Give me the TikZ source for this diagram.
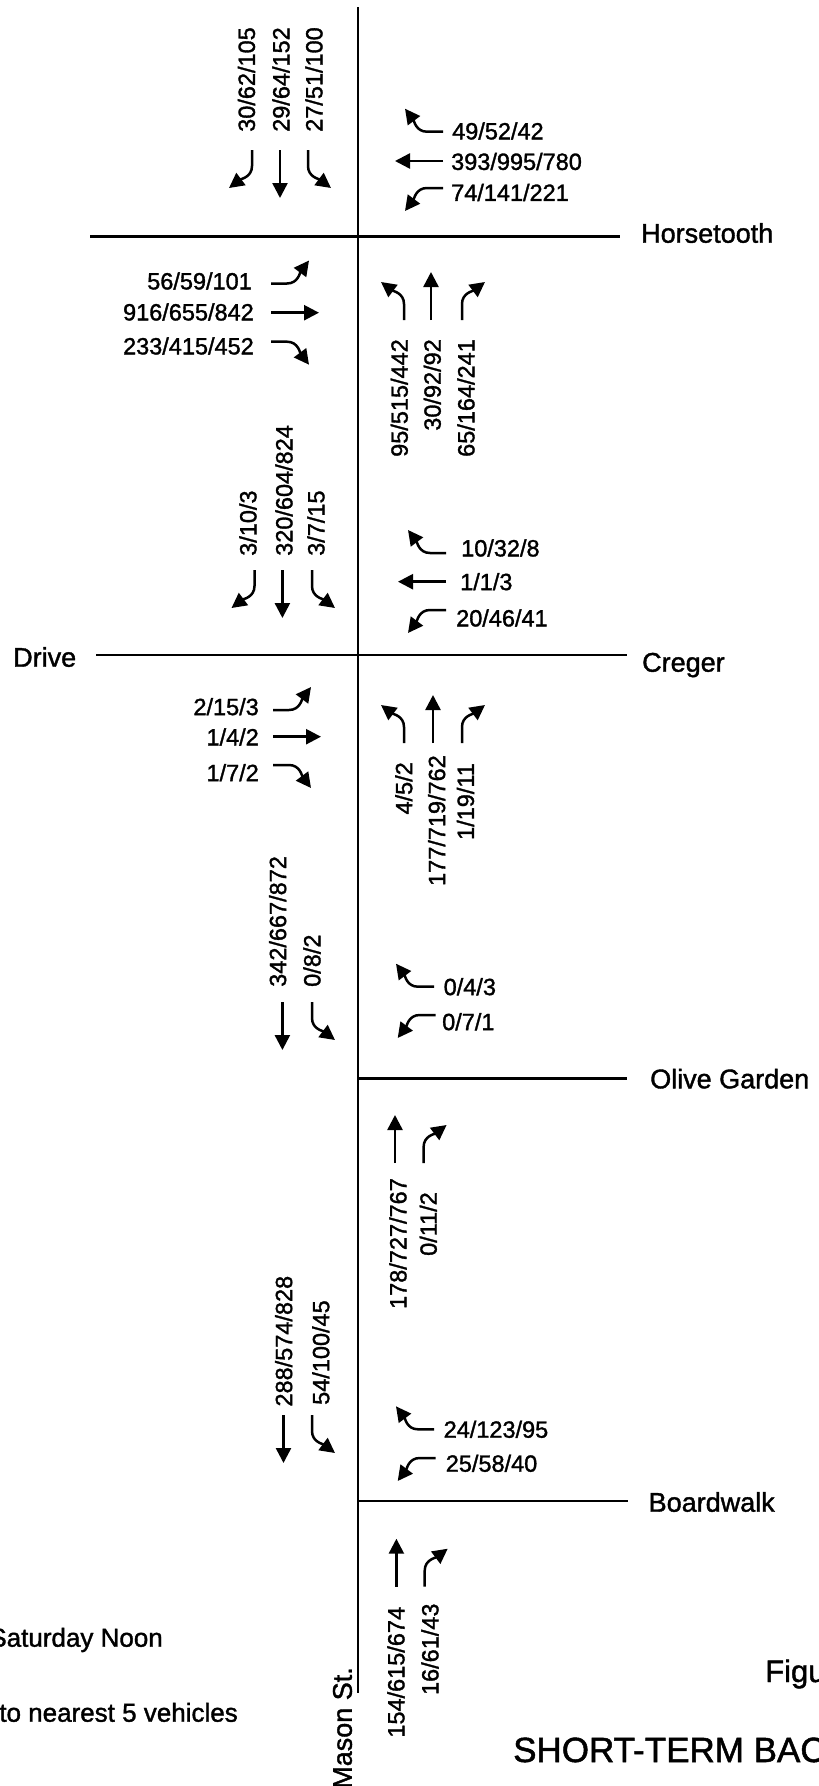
\documentclass[tikz,border=0pt]{standalone}
\usepackage{fontspec}
\setmainfont{Liberation Sans}[FakeBold=1.4]
\usetikzlibrary{arrows.meta}
\tikzset{
  % lane arrows, drawn heading north and turned with rotate=
  mv/.style={line width=2.5pt, -{Triangle[length=15pt,width=15pt]}},
  pics/thru/.style={code={\draw[mv] (0,0) -- (0,-48);}},
  pics/lturn/.style={code={\draw[mv] (0,0) -- (0,-16) .. controls (0,-27) and (-11,-29) .. (-23,-38);}},
  pics/rturn/.style={code={\draw[mv] (0,0) -- (0,-16) .. controls (0,-27) and (11,-29) .. (23,-38);}},
  road/.style={line width=2.8pt},
  vol/.style={font=\fontsize{23.5}{28}\selectfont, inner sep=0pt},
  volup/.style={vol, rotate=90},
  street/.style={font=\fontsize{27}{32}\selectfont, inner sep=0pt, anchor=base west},
  note/.style={font=\fontsize{26}{31}\selectfont, inner sep=0pt},
}

\begin{document}
\begin{tikzpicture}[x=1pt, y=-1pt]
    % Page (the scan is cut at the edges)
    \useasboundingbox (0,0) rectangle (819,1786);
    \clip (0,0) rectangle (819,1786);
    % Mason St.
    \draw[line width=2pt] (358,7) -- (358,1693);
    \node[volup, font=\fontsize{27}{32}\selectfont, anchor=east] (mason) at (342.5,1667) {Mason St.};
    % Cross streets
    \draw[road] (90,236.7) -- (620,236.7);
    \node[street] (horsetooth) at (641,242.7) {Horsetooth};
    \draw[road] (96,655) -- (627,655);
    \node[street] (drive) at (13,666.7) {Drive};
    \node[street] (creger) at (642,671.7) {Creger};
    \draw[road] (358,1078.3) -- (627,1078.3);
    \node[street] (olive) at (650,1088.3) {Olive Garden};
    \draw[road] (358,1501) -- (628,1501);
    \node[street] (boardwalk) at (648.5,1511.7) {Boardwalk};

    % Horsetooth
    \node[volup, anchor=west] (ht-sr) at (246.5,132) {30/62/105};
    \node[volup, anchor=west] (ht-st) at (281,132) {29/64/152};
    \node[volup, anchor=west] (ht-sl) at (314,132) {27/51/100};
    \pic[rotate=180] at (252,150) {rturn};
    \pic[rotate=180] at (280,150) {thru};
    \pic[rotate=180] at (308,150) {lturn};
    \node[vol, anchor=west] (ht-wr) at (452,131) {49/52/42};
    \node[vol, anchor=west] (ht-wt) at (451,161.5) {393/995/780};
    \node[vol, anchor=west] (ht-wl) at (451,192.5) {74/141/221};
    \pic[rotate=90] at (443,131.7) {rturn};
    \pic[rotate=90] at (443,161) {thru};
    \pic[rotate=90] at (443,188) {lturn};
    \node[vol, anchor=east] (ht-el) at (252,281) {56/59/101};
    \node[vol, anchor=east] (ht-et) at (254,312) {916/655/842};
    \node[vol, anchor=east] (ht-er) at (254,346) {233/415/452};
    \pic[rotate=-90] at (271,283.5) {lturn};
    \pic[rotate=-90] at (271,312.7) {thru};
    \pic[rotate=-90] at (271,341.7) {rturn};
    \node[volup, anchor=east] (ht-nl) at (399.3,339) {95/515/442};
    \node[volup, anchor=east] (ht-nt) at (432.3,339) {30/92/92};
    \node[volup, anchor=east] (ht-nr) at (466,339) {65/164/241};
    \pic at (404,320) {lturn};
    \pic at (431,320) {thru};
    \pic at (462,320) {rturn};

    % Creger / Drive
    \node[volup, anchor=west] (cr-sr) at (248,556) {3/10/3};
    \node[volup, anchor=west] (cr-st) at (284,556) {320/604/824};
    \node[volup, anchor=west] (cr-sl) at (316,556) {3/7/15};
    \pic[rotate=180] at (254.5,570) {rturn};
    \pic[rotate=180] at (282.4,570) {thru};
    \pic[rotate=180] at (312,570) {lturn};
    \node[vol, anchor=west] (cr-wr) at (461,548) {10/32/8};
    \node[vol, anchor=west] (cr-wt) at (460,581.7) {1/1/3};
    \node[vol, anchor=west] (cr-wl) at (456,618) {20/46/41};
    \pic[rotate=90] at (446,553) {rturn};
    \pic[rotate=90] at (446,581.7) {thru};
    \pic[rotate=90] at (446,610) {lturn};
    \node[vol, anchor=east] (cr-el) at (259,706.7) {2/15/3};
    \node[vol, anchor=east] (cr-et) at (259,737) {1/4/2};
    \node[vol, anchor=east] (cr-er) at (259,772.7) {1/7/2};
    \pic[rotate=-90] at (273,710) {lturn};
    \pic[rotate=-90] at (273,736.7) {thru};
    \pic[rotate=-90] at (273,765) {rturn};
    \node[volup, anchor=east] (cr-nl) at (403.8,762) {4/5/2};
    \node[volup, anchor=east] (cr-nt) at (436.7,755) {177/719/762};
    \node[volup, anchor=east] (cr-nr) at (465.5,763) {1/19/11};
    \pic at (404,743) {lturn};
    \pic at (433,743) {thru};
    \pic at (462,743) {rturn};

    % Olive Garden
    \node[volup, anchor=west] (og-st) at (277.7,987) {342/667/872};
    \node[volup, anchor=west] (og-sl) at (312,987) {0/8/2};
    \pic[rotate=180] at (282.4,1002) {thru};
    \pic[rotate=180] at (312,1002) {lturn};
    \node[vol, anchor=west] (og-wr) at (443.5,986.7) {0/4/3};
    \node[vol, anchor=west] (og-wl) at (442,1021.7) {0/7/1};
    \pic[rotate=90] at (434,986.7) {rturn};
    \pic[rotate=90] at (435.7,1015) {lturn};
    \node[volup, anchor=east] (og-nt) at (398,1178) {178/727/767};
    \node[volup, anchor=east] (og-nr) at (428.3,1192) {0/11/2};
    \pic at (395,1163) {thru};
    \pic at (423.6,1163) {rturn};

    % Boardwalk
    \node[volup, anchor=west] (bw-st) at (283.7,1406.7) {288/574/828};
    \node[volup, anchor=west] (bw-sl) at (320.8,1405) {54/100/45};
    \pic[rotate=180] at (283.5,1415) {thru};
    \pic[rotate=180] at (312,1415) {lturn};
    \node[vol, anchor=west] (bw-wr) at (443.5,1429.3) {24/123/95};
    \node[vol, anchor=west] (bw-wl) at (445.6,1463.3) {25/58/40};
    \pic[rotate=90] at (434,1429.3) {rturn};
    \pic[rotate=90] at (435.7,1458) {lturn};
    \node[volup, anchor=east] (bw-nt) at (396,1606.7) {154/615/674};
    \node[volup, anchor=east] (bw-nr) at (430,1603.3) {16/61/43};
    \pic at (396.4,1586.7) {thru};
    \pic at (424.7,1586.7) {rturn};

    % Notes and caption
    \node[note, anchor=base east] (period) at (163,1646.7) {Saturday Noon};
    \node[note, anchor=base east] (rounding) at (238,1721.7) {to nearest 5 vehicles};
    \node[note, font=\fontsize{31}{36}\selectfont, anchor=base west] (fig) at (765,1682) {Figu};
    \node[note, font=\fontsize{35}{40}\selectfont, anchor=base west] (title) at (513,1762) {SHORT-TERM BAC};
\end{tikzpicture}
\end{document}
